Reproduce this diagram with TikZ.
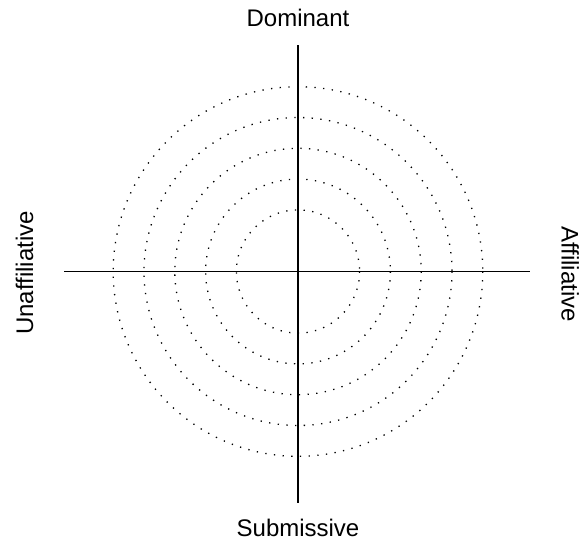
\documentclass[tikz,border=0pt]{standalone}
\usepackage{fontspec}
\setmainfont{Liberation Sans}
\begin{document}
\begin{tikzpicture}[x=1pt,y=-1pt,
  axis/.style={line width=1.3pt},
  ring/.style={line width=1.3pt, dash pattern=on 1.3pt off 7.4pt},
  lbl/.style={font=\fontsize{24}{28}\selectfont, anchor=base, inner sep=0pt}]
  \useasboundingbox (0,0) rectangle (583,544);
  \coordinate (c) at (298,271.5);
  % concentric dotted rings
  \foreach \k in {2,...,6}
    \draw[ring] (c) circle[radius=30.8*\k];
  % axes
  \coordinate (top) at (298,45);
  \coordinate (bot) at (298,503);
  \coordinate (lft) at (64,271.5);
  \coordinate (rgt) at (530,271.5);
  \draw[axis] (top) -- (bot);
  \draw[axis] (lft) -- (rgt);
  % pole labels
  \node[lbl] (dom) at (298,26.7) {Dominant};
  \node[lbl] (sub) at (298,536.7) {Submissive};
  \node[lbl, rotate=90] (unaff) at (33,273) {Unaffiliative};
  \node[lbl, rotate=-90] (aff) at (561.5,274) {Affiliative};
\end{tikzpicture}
\end{document}
